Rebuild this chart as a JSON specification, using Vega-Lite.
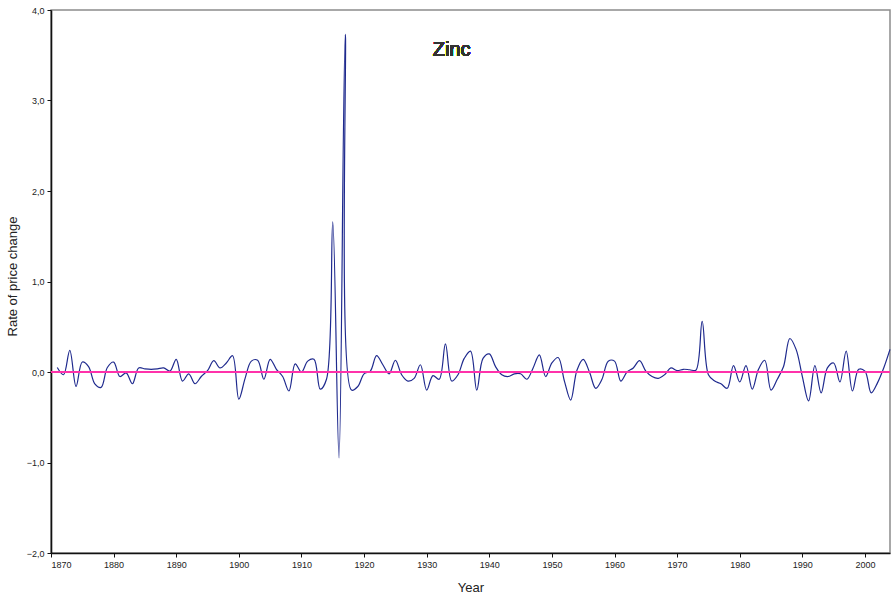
{
  "$schema": "https://vega.github.io/schema/vega-lite/v6.json",
  "width": 839,
  "height": 543,
  "autosize": {"type": "none"},
  "padding": {"left": 51, "top": 10, "right": 6, "bottom": 48},
  "background": "white",
  "config": {
    "view": {"stroke": "#8c8c8c", "strokeWidth": 1.5},
    "font": "Liberation Sans",
    "axis": {
      "grid": false,
      "domainColor": "#111",
      "domainWidth": 1.6,
      "tickColor": "#111",
      "tickSize": 4,
      "labelFont": "Liberation Sans",
      "labelFontSize": 9,
      "labelColor": "#222",
      "titleFont": "Liberation Sans",
      "titleFontSize": 13,
      "titleFontWeight": "normal",
      "titleColor": "#222"
    }
  },
  "data": {"values": [
    {"year": 1871, "rate": 0.05}, {"year": 1872, "rate": -0.03}, {"year": 1873, "rate": 0.24}, {"year": 1874, "rate": -0.16},
    {"year": 1875, "rate": 0.11}, {"year": 1876, "rate": 0.06}, {"year": 1877, "rate": -0.13}, {"year": 1878, "rate": -0.17},
    {"year": 1879, "rate": 0.05}, {"year": 1880, "rate": 0.11}, {"year": 1881, "rate": -0.05}, {"year": 1882, "rate": -0.01},
    {"year": 1883, "rate": -0.13}, {"year": 1884, "rate": 0.045}, {"year": 1885, "rate": 0.035}, {"year": 1886, "rate": 0.03},
    {"year": 1887, "rate": 0.035}, {"year": 1888, "rate": 0.045}, {"year": 1889, "rate": 0.01}, {"year": 1890, "rate": 0.14},
    {"year": 1891, "rate": -0.1}, {"year": 1892, "rate": -0.02}, {"year": 1893, "rate": -0.13}, {"year": 1894, "rate": -0.05},
    {"year": 1895, "rate": 0.015}, {"year": 1896, "rate": 0.125}, {"year": 1897, "rate": 0.045}, {"year": 1898, "rate": 0.1},
    {"year": 1899, "rate": 0.18}, {"year": 1900, "rate": -0.3}, {"year": 1901, "rate": -0.07}, {"year": 1902, "rate": 0.12},
    {"year": 1903, "rate": 0.13}, {"year": 1904, "rate": -0.08}, {"year": 1905, "rate": 0.14}, {"year": 1906, "rate": 0.03},
    {"year": 1907, "rate": -0.05}, {"year": 1908, "rate": -0.21}, {"year": 1909, "rate": 0.09}, {"year": 1910, "rate": 0.0},
    {"year": 1911, "rate": 0.12}, {"year": 1912, "rate": 0.14}, {"year": 1913, "rate": -0.19}, {"year": 1914, "rate": -0.08},
    {"year": 1915, "rate": 1.66}, {"year": 1916, "rate": -0.95}, {"year": 1917, "rate": 3.73}, {"year": 1918, "rate": -0.2},
    {"year": 1919, "rate": -0.16}, {"year": 1920, "rate": -0.02}, {"year": 1921, "rate": 0.01}, {"year": 1922, "rate": 0.18},
    {"year": 1923, "rate": 0.08}, {"year": 1924, "rate": -0.02}, {"year": 1925, "rate": 0.13}, {"year": 1926, "rate": -0.03},
    {"year": 1927, "rate": -0.1}, {"year": 1928, "rate": -0.07}, {"year": 1929, "rate": 0.08}, {"year": 1930, "rate": -0.2},
    {"year": 1931, "rate": -0.04}, {"year": 1932, "rate": -0.08}, {"year": 1933, "rate": 0.31}, {"year": 1934, "rate": -0.1},
    {"year": 1935, "rate": -0.03}, {"year": 1936, "rate": 0.15}, {"year": 1937, "rate": 0.23}, {"year": 1938, "rate": -0.2},
    {"year": 1939, "rate": 0.15}, {"year": 1940, "rate": 0.2}, {"year": 1941, "rate": 0.06}, {"year": 1942, "rate": -0.03},
    {"year": 1943, "rate": -0.05}, {"year": 1944, "rate": -0.02}, {"year": 1945, "rate": -0.02}, {"year": 1946, "rate": -0.08},
    {"year": 1947, "rate": 0.045}, {"year": 1948, "rate": 0.19}, {"year": 1949, "rate": -0.05}, {"year": 1950, "rate": 0.1},
    {"year": 1951, "rate": 0.16}, {"year": 1952, "rate": -0.1}, {"year": 1953, "rate": -0.31}, {"year": 1954, "rate": 0.02},
    {"year": 1955, "rate": 0.14}, {"year": 1956, "rate": 0.0}, {"year": 1957, "rate": -0.18}, {"year": 1958, "rate": -0.08},
    {"year": 1959, "rate": 0.12}, {"year": 1960, "rate": 0.12}, {"year": 1961, "rate": -0.1}, {"year": 1962, "rate": 0.0},
    {"year": 1963, "rate": 0.045}, {"year": 1964, "rate": 0.125}, {"year": 1965, "rate": 0.01}, {"year": 1966, "rate": -0.05},
    {"year": 1967, "rate": -0.07}, {"year": 1968, "rate": -0.03}, {"year": 1969, "rate": 0.045}, {"year": 1970, "rate": 0.015},
    {"year": 1971, "rate": 0.03}, {"year": 1972, "rate": 0.025}, {"year": 1973, "rate": 0.02}, {"year": 1974, "rate": 0.56},
    {"year": 1975, "rate": -0.03}, {"year": 1976, "rate": -0.1}, {"year": 1977, "rate": -0.13}, {"year": 1978, "rate": -0.18},
    {"year": 1979, "rate": 0.07}, {"year": 1980, "rate": -0.11}, {"year": 1981, "rate": 0.07}, {"year": 1982, "rate": -0.19},
    {"year": 1983, "rate": 0.03}, {"year": 1984, "rate": 0.13}, {"year": 1985, "rate": -0.2}, {"year": 1986, "rate": -0.08},
    {"year": 1987, "rate": 0.06}, {"year": 1988, "rate": 0.37}, {"year": 1989, "rate": 0.25}, {"year": 1990, "rate": -0.05},
    {"year": 1991, "rate": -0.32}, {"year": 1992, "rate": 0.07}, {"year": 1993, "rate": -0.23}, {"year": 1994, "rate": 0.045},
    {"year": 1995, "rate": 0.1}, {"year": 1996, "rate": -0.11}, {"year": 1997, "rate": 0.23}, {"year": 1998, "rate": -0.21},
    {"year": 1999, "rate": 0.03}, {"year": 2000, "rate": 0.01}, {"year": 2001, "rate": -0.23}, {"year": 2002, "rate": -0.12},
    {"year": 2003, "rate": 0.045}, {"year": 2004, "rate": 0.25}
  ]},
  "layer": [
    {
      "mark": {"type": "line", "interpolate": "catmull-rom", "color": "#1f2a8e", "strokeWidth": 1.2},
      "encoding": {
        "x": {
          "field": "year", "type": "quantitative",
          "scale": {"domain": [1870, 2004], "nice": false, "zero": false},
          "axis": {
            "values": [1870, 1880, 1890, 1900, 1910, 1920, 1930, 1940, 1950, 1960, 1970, 1980, 1990, 2000],
            "format": "d",
            "labelPadding": 3,
            "title": "Year",
            "titleX": 419.5,
            "titleY": 34,
            "titleBaseline": "middle",
            "titleAlign": "center"
          }
        },
        "y": {
          "field": "rate", "type": "quantitative",
          "scale": {"domain": [-2, 4], "nice": false},
          "axis": {
            "values": [-2, -1, 0, 1, 2, 3, 4],
            "labelExpr": "replace(format(datum.value, '.1f'), '.', ',')",
            "labelPadding": 3,
            "title": "Rate of price change",
            "titleAngle": 270,
            "titleX": -39,
            "titleY": 266,
            "titleBaseline": "middle",
            "titleAlign": "center"
          }
        }
      }
    },
    {
      "mark": {"type": "rule", "color": "#ff33aa", "strokeWidth": 1.2},
      "encoding": {"y": {"datum": 0}}
    },
    {
      "mark": {"type": "text", "fontSize": 20, "fontWeight": 400, "font": "Liberation Sans", "color": "#333", "align": "center", "baseline": "middle"},
      "encoding": {"x": {"datum": 1934}, "y": {"datum": 3.56}, "text": {"value": "Zinc"}}
    }
  ]
}
